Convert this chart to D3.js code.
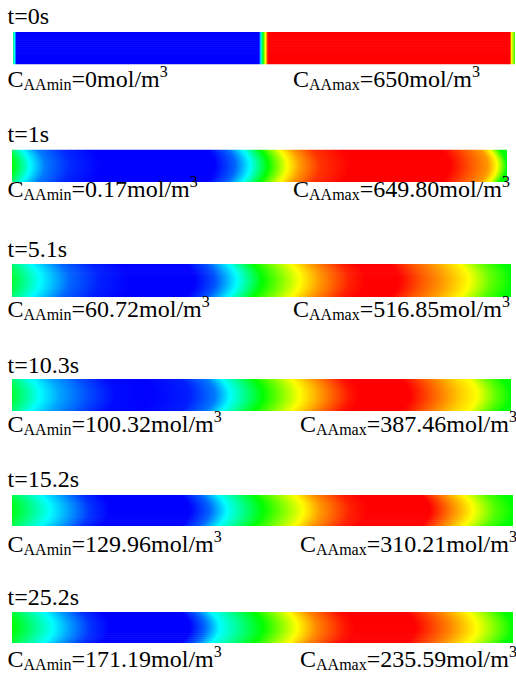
<!DOCTYPE html>
<html>
<head>
<meta charset="utf-8">
<script src="https://cdn.jsdelivr.net/npm/d3@7"></script>
<style>
  html, body { margin: 0; padding: 0; background: #fff; }
  svg { display: block; }
</style>
</head>
<body>
<script>
// ---- data -------------------------------------------------------------
// Snapshot times (s)
const times = ["0", "1", "5.1", "10.3", "15.2", "25.2"];
// Minimum / maximum AA concentration of each snapshot (mol/m^3), as printed
const minText = ["0", "0.17", "60.72", "100.32", "129.96", "171.19"];
const maxText = ["650", "649.80", "516.85", "387.46", "310.21", "235.59"];

// Concentration along the channel centreline:
// [position along channel (0..1), fraction of the snapshot's min..max range]
const profile0 = [[0, 0.40], [0.003, 0.25], [0.007, 0.0], [0.490, 0.0], [0.494, 0.25], [0.498, 0.5],
                  [0.503, 0.75], [0.508, 1.0], [0.990, 1.0], [0.993, 0.75], [1.0, 0.55]];
const profile1 = [[0, 0.50], [0.036, 0.25], [0.067, 0.12], [0.117, 0.04], [0.178, 0.0], [0.410, 0.0],
                  [0.451, 0.10], [0.481, 0.25], [0.517, 0.5], [0.556, 0.75], [0.582, 0.85], [0.622, 0.95],
                  [0.683, 1.0], [0.885, 1.0], [0.925, 0.92], [0.962, 0.85], [0.980, 0.75], [1.0, 0.5]];
const profile2 = [[0, 0.45], [0.056, 0.25], [0.116, 0.10], [0.176, 0.03], [0.236, 0.0], [0.367, 0.0],
                  [0.407, 0.08], [0.451, 0.25], [0.501, 0.5], [0.577, 0.75], [0.617, 0.85], [0.677, 0.97],
                  [0.709, 1.0], [0.776, 1.0], [0.818, 0.92], [0.868, 0.84], [0.916, 0.75], [0.958, 0.6], [1.0, 0.5]];
const profile3 = [[0, 0.45], [0.056, 0.25], [0.096, 0.16], [0.156, 0.07], [0.206, 0.01], [0.277, 0.0],
                  [0.357, 0.03], [0.407, 0.12], [0.437, 0.25], [0.503, 0.5], [0.577, 0.75], [0.627, 0.87],
                  [0.677, 0.98], [0.697, 1.0], [0.798, 1.0], [0.848, 0.9], [0.898, 0.8], [0.932, 0.75],
                  [0.968, 0.6], [1.0, 0.5]];
const profile4 = [[0, 0.48], [0.076, 0.25], [0.116, 0.15], [0.156, 0.05], [0.196, 0.0], [0.355, 0.0],
                  [0.395, 0.10], [0.429, 0.25], [0.501, 0.5], [0.581, 0.75], [0.615, 0.85], [0.675, 0.97],
                  [0.709, 1.0], [0.834, 1.0], [0.874, 0.88], [0.920, 0.75], [0.964, 0.58], [1.0, 0.5]];
const profile5 = [[0, 0.50], [0.082, 0.25], [0.116, 0.15], [0.156, 0.05], [0.196, 0.0], [0.355, 0.0],
                  [0.385, 0.10], [0.415, 0.25], [0.501, 0.5], [0.569, 0.75], [0.609, 0.87], [0.665, 0.98],
                  [0.685, 1.0], [0.805, 1.0], [0.874, 0.87], [0.928, 0.75], [1.0, 0.5]];
const profiles = [profile0, profile1, profile2, profile3, profile4, profile5];

// How far the fronts near the walls lag the centreline (fraction of channel length)
const frontLag = [0, 0.016, 0.018, 0.018, 0.018, 0.018];

// Colour map stops (blue - cyan - green - yellow - red)
const rampColours = ["#0000ff", "#00ffff", "#00ff00", "#ffff00", "#ff0000"];

// ---- layout -----------------------------------------------------------
const W = 516, H = 677;
const panels = [
  { x0: 13, x1: 515, y: 32,    h: 32.5, titleY: 24,    labelY: 87,  rightX: 293 },
  { x0: 12, x1: 507, y: 149.5, h: 32.5, titleY: 141.5, labelY: 197, rightX: 293 },
  { x0: 12, x1: 511, y: 264,   h: 33,   titleY: 257,   labelY: 317, rightX: 293 },
  { x0: 12, x1: 511, y: 379,   h: 32,   titleY: 373,   labelY: 432, rightX: 300 },
  { x0: 12, x1: 513, y: 495,   h: 31,   titleY: 487,   labelY: 552, rightX: 300 },
  { x0: 12, x1: 513, y: 612,   h: 31,   titleY: 605,   labelY: 667, rightX: 300 }
];
const FONT_FAMILY = "Liberation Serif";
const FONT = 24, SUB = 16;
const STRIPS = 16;

const svg = d3.select("body").append("svg")
  .attr("width", W).attr("height", H);
const defs = svg.append("defs");

panels.forEach((p, k) => {
  const cmin = +minText[k], cmax = +maxText[k];
  // colour scale over this snapshot's own concentration range
  const colour = d3.scaleLinear()
    .domain(d3.range(rampColours.length).map(i => cmin + i / (rampColours.length - 1) * (cmax - cmin)))
    .range(rampColours)
    .interpolate(d3.interpolateRgb)
    .clamp(true);
  const level = d3.scaleLinear().domain([0, 1]).range([cmin, cmax]);
  const x = d3.scaleLinear().domain([0, 1]).range([p.x0, p.x1]);
  const y = d3.scaleLinear().domain([0, 1]).range([p.y, p.y + p.h]);

  const g = svg.append("g");
  const clipId = `clip${k}`;
  defs.append("clipPath").attr("id", clipId)
    .append("rect").attr("x", x(0)).attr("y", y(0))
    .attr("width", x(1) - x(0)).attr("height", y(1) - y(0));

  const field = g.append("g").attr("clip-path", `url(#${clipId})`);

  // the channel is drawn as thin strips; each strip carries the axial profile,
  // shifted so the fronts bow forward in the middle of the channel
  d3.range(STRIPS).forEach(s => {
    const yc = (s + 0.5) / STRIPS;
    const u = 2 * yc - 1;
    const shift = -frontLag[k] * u * u * (x(1) - x(0));
    const gid = `grad${k}_${s}`;
    const grad = defs.append("linearGradient")
      .attr("id", gid)
      .attr("gradientUnits", "userSpaceOnUse")
      .attr("x1", x(0) + shift).attr("x2", x(1) + shift)
      .attr("y1", 0).attr("y2", 0);
    grad.selectAll("stop").data(profiles[k]).join("stop")
      .attr("offset", d => d[0])
      .attr("stop-color", d => colour(level(d[1])));
    field.append("rect")
      .attr("x", x(0)).attr("width", x(1) - x(0))
      .attr("y", y(s / STRIPS))
      .attr("height", y((s + 1) / STRIPS) - y(s / STRIPS) + (s < STRIPS - 1 ? 0.6 : 0))
      .attr("fill", `url(#${gid})`);
  });

  // time stamp
  g.append("text")
    .attr("x", 7.5).attr("y", p.titleY)
    .attr("font-family", FONT_FAMILY)
    .attr("font-size", FONT)
    .text(`t=${times[k]}s`);

  // min / max labels with sub- and superscripts
  const label = (xPos, sub, value) => {
    const t = g.append("text").attr("x", xPos).attr("y", p.labelY)
      .attr("font-family", FONT_FAMILY).attr("font-size", FONT);
    t.append("tspan").text("C");
    t.append("tspan").attr("font-size", SUB).attr("dy", 3).text(sub);
    t.append("tspan").attr("dy", -3).text(`=${value}mol/m`);
    t.append("tspan").attr("font-size", SUB).attr("dy", -10).text("3");
  };
  label(7.5, "AAmin", minText[k]);
  label(p.rightX, "AAmax", maxText[k]);
});
</script>
</body>
</html>
